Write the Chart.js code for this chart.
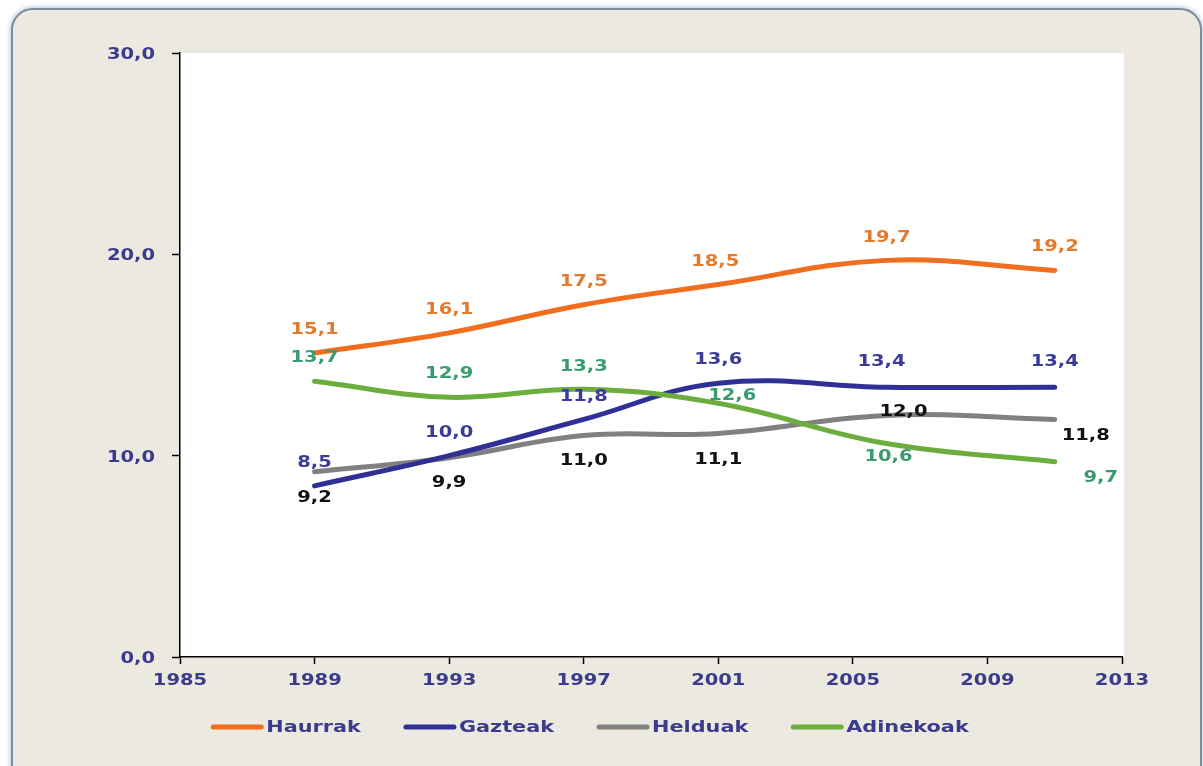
<!DOCTYPE html>
<html>
<head>
<meta charset="utf-8">
<script src="https://cdn.jsdelivr.net/npm/chart.js@4"></script>
<style>
  html, body { margin: 0; padding: 0; background: #fff; width: 1203px; height: 766px; overflow: hidden; }
  #frame {
    position: absolute; left: 11px; top: 8px; width: 1187px; height: 790px;
    background: #ECE9E1; border: 2px solid #7E8B9B; border-radius: 22px;
    box-shadow: 0 0 4px 1px rgba(150, 175, 210, 0.7);
  }
  #chart { position: absolute; left: 0; top: 0; }
</style>
</head>
<body>
<div id="frame"></div>
<canvas id="chart" width="1203" height="766"></canvas>
<script>
// data
const years = [1989, 1993, 1997, 2001, 2006, 2011];
const haurrak = [15.1, 16.1, 17.5, 18.5, 19.7, 19.2];
const gazteak = [8.5, 10.0, 11.8, 13.6, 13.4, 13.4];
const helduak = [9.2, 9.9, 11.0, 11.1, 12.0, 11.8];
const adinekoak = [13.7, 12.9, 13.3, 12.6, 10.6, 9.7];
const seriesNames = ['Haurrak', 'Gazteak', 'Helduak', 'Adinekoak'];
const xTicks = [1985, 1989, 1993, 1997, 2001, 2005, 2009, 2013];
const yTicks = [0, 10, 20, 30];

const lineColors = ['#F06E1E', '#2F3096', '#808080', '#6CAE3E'];
const textColors = ['#E37B2F', '#3C3C98', '#111111', '#3A9B6F'];
const axisText = '#3B3B8E';
const WIDE = 1.3; // the source text is drawn wide

// where each value label sits relative to its point
const labelOffsets = [
  [[0, -23], [0, -23], [0, -23], [-3, -22], [0, -22], [0, -23]],
  [[0, -23], [0, -23], [0, -22], [0, -23], [-5, -25], [0, -25]],
  [[0, 26], [0, 25], [0, 26], [0, 27], [17, -3], [31, 17]],
  [[0, -23], [0, -23], [0, -22], [14, -7], [2, 14], [46, 16]]
];

const fmt = v => v.toFixed(1).replace('.', ',');

function wideText(ctx, text, x, y, align) {
  ctx.save();
  ctx.translate(x, y);
  ctx.scale(WIDE, 1);
  ctx.textAlign = align;
  ctx.textBaseline = 'middle';
  ctx.fillText(text, 0, 0);
  ctx.restore();
}

const plotBg = {
  id: 'plotBg',
  beforeDraw(chart) {
    const a = chart.chartArea;
    const ctx = chart.ctx;
    ctx.save();
    ctx.fillStyle = '#ffffff';
    ctx.fillRect(a.left, a.top, a.right - a.left + 2, a.bottom - a.top);
    ctx.restore();
  }
};

const axisLabels = {
  id: 'axisLabels',
  afterDraw(chart) {
    const ctx = chart.ctx;
    const xs = chart.scales.x, ys = chart.scales.y;
    ctx.save();
    ctx.font = 'bold 15px "DejaVu Sans"';
    ctx.fillStyle = axisText;
    xs.ticks.forEach(t => wideText(ctx, String(t.value), xs.getPixelForValue(t.value), xs.top + 24, 'center'));
    ys.ticks.forEach(t => wideText(ctx, fmt(t.value), ys.right - 25, ys.getPixelForValue(t.value) + 2, 'right'));
    ctx.restore();
  }
};

const valueLabels = {
  id: 'valueLabels',
  afterDatasetsDraw(chart) {
    const ctx = chart.ctx;
    ctx.save();
    ctx.font = 'bold 15px "DejaVu Sans"';
    chart.data.datasets.forEach((ds, i) => {
      const meta = chart.getDatasetMeta(i);
      ctx.fillStyle = textColors[i];
      meta.data.forEach((pt, j) => {
        const off = labelOffsets[i][j];
        wideText(ctx, fmt(ds.data[j].y), pt.x + off[0], pt.y + off[1], 'center');
      });
    });
    ctx.restore();
  }
};

const bottomLegend = {
  id: 'bottomLegend',
  afterDraw(chart) {
    const ctx = chart.ctx;
    const lineLen = 48, gap = 5, itemGap = 45, cy = 727, cx = 591;
    ctx.save();
    ctx.font = 'bold 16px "DejaVu Sans"';
    const widths = seriesNames.map(n => ctx.measureText(n).width * WIDE);
    const total = widths.reduce((s, w) => s + lineLen + gap + w, 0) + itemGap * (seriesNames.length - 1);
    let x = cx - total / 2;
    seriesNames.forEach((n, i) => {
      ctx.strokeStyle = lineColors[i];
      ctx.lineWidth = 5;
      ctx.lineCap = 'round';
      ctx.beginPath();
      ctx.moveTo(x, cy);
      ctx.lineTo(x + lineLen, cy);
      ctx.stroke();
      ctx.fillStyle = axisText;
      wideText(ctx, n, x + lineLen + gap, cy + 1, 'left');
      x += lineLen + gap + widths[i] + itemGap;
    });
    ctx.restore();
  }
};

const allSeries = [haurrak, gazteak, helduak, adinekoak];
const drawOrder = [4, 2, 3, 1];

const ctx = document.getElementById('chart').getContext('2d');
new Chart(ctx, {
  type: 'line',
  data: {
    datasets: seriesNames.map((name, i) => ({
      label: name,
      data: years.map((yr, j) => ({ x: yr, y: allSeries[i][j] })),
      borderColor: lineColors[i],
      backgroundColor: lineColors[i],
      borderWidth: 5,
      borderCapStyle: 'round',
      borderJoinStyle: 'round',
      pointRadius: 0,
      tension: 0.4,
      order: drawOrder[i]
    }))
  },
  options: {
    responsive: false,
    animation: false,
    layout: { padding: { left: 60, right: 81, top: 53, bottom: 69 } },
    plugins: { legend: { display: false }, tooltip: { enabled: false } },
    scales: {
      x: {
        type: 'linear',
        min: xTicks[0],
        max: xTicks[xTicks.length - 1],
        afterBuildTicks: s => { s.ticks = xTicks.map(v => ({ value: v })); },
        afterFit: s => { s.height = 40; },
        ticks: { display: false },
        grid: { drawOnChartArea: false, tickLength: 7, color: '#000', tickWidth: 1.5 },
        border: { color: '#000', width: 1.5 }
      },
      y: {
        min: yTicks[0],
        max: yTicks[yTicks.length - 1],
        afterBuildTicks: s => { s.ticks = yTicks.map(v => ({ value: v })); },
        afterFit: s => { s.width = 120; },
        ticks: { display: false },
        grid: { drawOnChartArea: false, tickLength: 8, color: '#000', tickWidth: 1.5 },
        border: { color: '#000', width: 1.5 }
      }
    }
  },
  plugins: [plotBg, valueLabels, axisLabels, bottomLegend]
});
</script>
</body>
</html>
